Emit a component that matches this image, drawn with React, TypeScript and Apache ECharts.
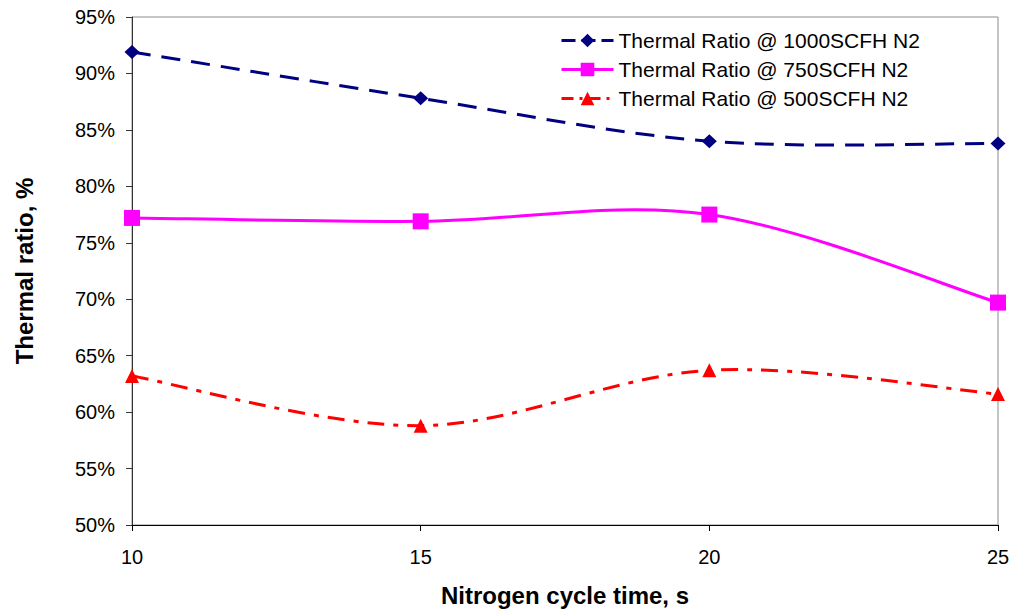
import React, { useEffect, useRef } from "react";
import * as echarts from "echarts";

// Nitrogen cycle time (s)
const cycleTimes = [10, 15, 20, 25];
// Thermal ratio (%) for each N2 flow rate
const ratio1000 = [91.9, 87.8, 84.0, 83.8];
const ratio750 = [77.2, 76.9, 77.5, 69.7];
const ratio500 = [63.2, 58.8, 63.7, 61.6];

const seriesNames = [
  "Thermal Ratio @ 1000SCFH N2",
  "Thermal Ratio @ 750SCFH N2",
  "Thermal Ratio @ 500SCFH N2",
];

const FONT = "'Liberation Sans', Arial, sans-serif";

type Style = { color: string; dash: number[] | "solid"; symbol: string; size: number | number[] };

const styles: Style[] = [
  { color: "#000080", dash: [19, 11], symbol: "diamond", size: [15, 14] },
  { color: "#ff00ff", dash: "solid", symbol: "rect", size: 16 },
  { color: "#ff0000", dash: [17, 9, 5, 9], symbol: "triangle", size: 14 },
];

// Catmull-Rom style spline through pixel points, as cubic Bezier path data
function splinePath(pts: number[][]): string {
  const n = pts.length;
  const at = (i: number) => pts[Math.max(0, Math.min(n - 1, i))];
  let d = `M${pts[0][0]},${pts[0][1]}`;
  for (let i = 0; i < n - 1; i++) {
    const p0 = at(i - 1);
    const p1 = at(i);
    const p2 = at(i + 1);
    const p3 = at(i + 2);
    const c1x = p1[0] + (p2[0] - p0[0]) / 6;
    const c1y = p1[1] + (p2[1] - p0[1]) / 6;
    const c2x = p2[0] - (p3[0] - p1[0]) / 6;
    const c2y = p2[1] - (p3[1] - p1[1]) / 6;
    d += ` C${c1x},${c1y} ${c2x},${c2y} ${p2[0]},${p2[1]}`;
  }
  return d;
}

export default function App() {
  const ref = useRef<HTMLDivElement>(null);

  useEffect(() => {
    if (!ref.current) return;
    const chart = echarts.init(ref.current, undefined, { renderer: "svg" });
    const pair = (ys: number[]) => cycleTimes.map((x, i) => [x, ys[i]]);
    const allValues = [ratio1000, ratio750, ratio500];

    // Smoothed curves drawn once per series through the axis scales
    const curveSeries = allValues.map((ys, k) => ({
      name: seriesNames[k] + " curve",
      type: "custom",
      z: 1,
      silent: true,
      data: pair(ys),
      renderItem: (params: any, api: any) => {
        if (params.dataIndex !== 0) return null;
        const pts = cycleTimes.map((x, i) => api.coord([x, ys[i]]));
        return {
          type: "path",
          shape: { pathData: splinePath(pts) },
          style: {
            fill: "none",
            stroke: styles[k].color,
            lineWidth: 3,
            lineDash: styles[k].dash === "solid" ? null : styles[k].dash,
          },
        };
      },
    }));

    // Markers (and legend entries) for each series
    const markerSeries = allValues.map((ys, k) => ({
      name: seriesNames[k],
      type: "line",
      z: 3,
      data: pair(ys),
      symbol: styles[k].symbol,
      symbolSize: styles[k].size,
      itemStyle: { color: styles[k].color },
      lineStyle: { color: styles[k].color, width: 0, opacity: 0 },
    }));

    chart.setOption({
      animation: false,
      backgroundColor: "#ffffff",
      textStyle: { fontFamily: FONT },
      grid: {
        left: 132,
        right: 17,
        top: 17,
        bottom: 85,
        show: true,
        borderColor: "#8c8c8c",
        borderWidth: 1,
      },
      legend: {
        left: 555,
        top: 25,
        orient: "vertical",
        itemWidth: 52,
        itemHeight: 17,
        itemGap: 8,
        textStyle: { fontSize: 21, color: "#000", fontFamily: FONT },
        data: seriesNames.map((name, k) => ({
          name,
          itemStyle: { color: styles[k].color },
          lineStyle: {
            color: styles[k].color,
            width: 3,
            opacity: 1,
            type: styles[k].dash === "solid" ? "solid" : k === 0 ? [14, 6] : [12, 6, 3, 6],
          },
        })),
      },
      xAxis: {
        type: "value",
        min: 10,
        max: 25,
        interval: 5,
        name: "Nitrogen cycle time, s",
        nameLocation: "middle",
        nameGap: 58,
        nameTextStyle: { fontSize: 24, fontWeight: "bold", color: "#000", fontFamily: FONT },
        axisLine: { show: true, lineStyle: { color: "#000", width: 1 } },
        axisTick: { show: true, inside: false, length: 6, lineStyle: { color: "#000" } },
        axisLabel: { fontSize: 20, color: "#000", margin: 22, fontFamily: FONT },
        splitLine: { show: false },
      },
      yAxis: {
        type: "value",
        min: 50,
        max: 95,
        interval: 5,
        name: "Thermal ratio, %",
        nameLocation: "middle",
        nameGap: 96,
        nameRotate: 90,
        nameTextStyle: { fontSize: 24, fontWeight: "bold", color: "#000", fontFamily: FONT },
        axisLine: { show: true, lineStyle: { color: "#333", width: 1 } },
        axisTick: { show: true, inside: false, length: 6, lineStyle: { color: "#333" } },
        axisLabel: {
          fontSize: 20,
          color: "#000",
          margin: 17,
          fontFamily: FONT,
          formatter: (v: number) => `${v}%`,
        },
        splitLine: { show: false },
      },
      series: [...curveSeries, ...markerSeries],
    });

    return () => chart.dispose();
  }, []);

  return (
    <div
      ref={ref}
      style={{ position: "absolute", left: 0, top: 0, width: 1015, height: 612 }}
    />
  );
}
